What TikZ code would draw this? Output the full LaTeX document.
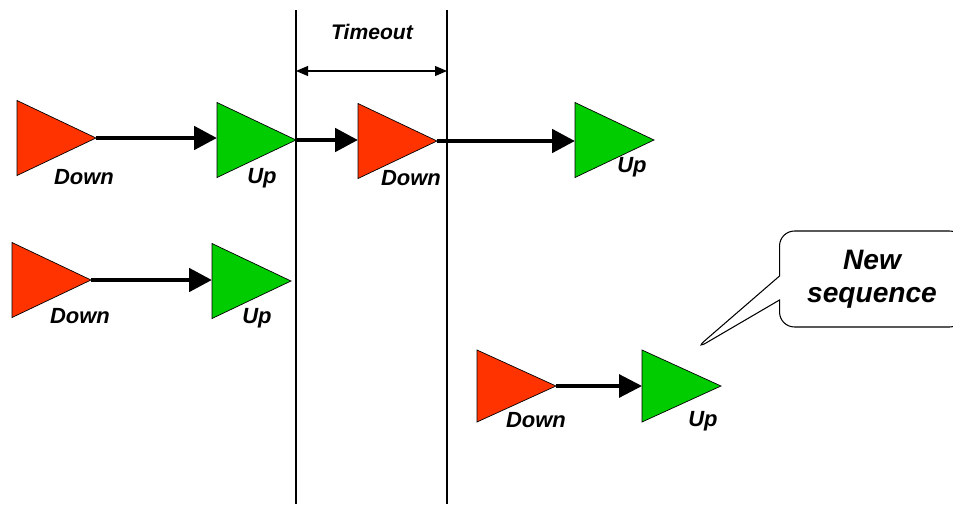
\documentclass[tikz,border=0pt]{standalone}
\usepackage{fontspec}
\setmainfont{Liberation Sans}
\usetikzlibrary{arrows.meta, positioning, shapes.geometric, shapes.callouts}
\definecolor{downred}{RGB}{255,51,0}
\definecolor{upgreen}{RGB}{0,204,0}
\tikzset{
  flank/.style={
	isosceles triangle, isosceles triangle stretches, % keeps the size fixed
	shape border rotate=0, anchor=lower side, % points to the right
	minimum width=1.5cm, minimum height=1.58cm,
	inner sep=0pt, outer sep=0pt, draw=black, line width=0.4pt,
  },
  down/.style={flank, fill=downred},
  up/.style={flank, fill=upgreen},
  tag/.style={font=\bfseries\itshape\fontsize{12.5}{14}\selectfont, inner sep=0pt},
  step arrow/.style={-{Triangle[length=0.46cm,width=0.46cm]}, line width=2.8pt}, % bold transition
}

\begin{document}
\begin{tikzpicture}[x=0.02cm, y=-0.02cm]
\useasboundingbox (0,0) rectangle (953,504);
% timeout window
\draw[line width=0.6pt] (296,10) coordinate (wl) -- (296,504);
\draw[line width=0.6pt] (447,10) coordinate (wr) -- (447,504);
\coordinate (tl) at (296,71);
\coordinate (tr) at (447,71);
\draw[{Triangle[length=0.24cm,width=0.2cm]}-{Triangle[length=0.24cm,width=0.2cm]}, line width=0.6pt] (tl) -- (tr);
\node[tag, font=\bfseries\itshape\fontsize{12}{14}\selectfont] (timeout) at (372,32) {Timeout};
% first row
\node[down] (d1) at (17,138) {};
\node[up]   (u1) at (217,140) {};
\node[down] (d2) at (358,141) {};
\node[up]   (u2) at (575,140) {};
\node[tag] (ld1) at (84,177) {Down};
\node[tag] (lu1) at (262,178) {Up};
\node[tag] (ld2) at (411,178) {Down};
\node[tag] (lu2) at (632,167) {Up};
\draw[step arrow] (d1.apex) -- (d1.apex -| u1.lower side);
\draw[step arrow] (u1.apex) -- (u1.apex -| d2.lower side);
\draw[step arrow] (d2.apex) -- (d2.apex -| u2.lower side);
% second row
\node[down] (d3) at (12,280) {};
\node[up]   (u3) at (212,281) {};
\node[tag] (ld3) at (80,316) {Down};
\node[tag] (lu3) at (257,318) {Up};
\draw[step arrow] (d3.apex) -- (d3.apex -| u3.lower side);
% third row
\node[down, minimum width=1.44cm] (d4) at (477,386) {};
\node[up, minimum width=1.44cm]   (u4) at (642,386) {};
\node[tag] (ld4) at (536,420) {Down};
\node[tag] (lu4) at (703,421) {Up};
\draw[step arrow, line width=1.8pt] (d4.apex) -- (u4.lower side);
% callout
\coordinate (tip) at (694,350);
\node[rectangle callout, callout absolute pointer={(tip)}, callout pointer width=0.48cm,
	rounded corners=0.3cm, draw=black, line width=0.6pt, fill=white,
	minimum width=3.7cm, minimum height=1.92cm, align=center,
	font=\bfseries\itshape\fontsize{16}{19}\selectfont] (newseq) at (872,279) {New\\sequence};
\end{tikzpicture}
\end{document}
